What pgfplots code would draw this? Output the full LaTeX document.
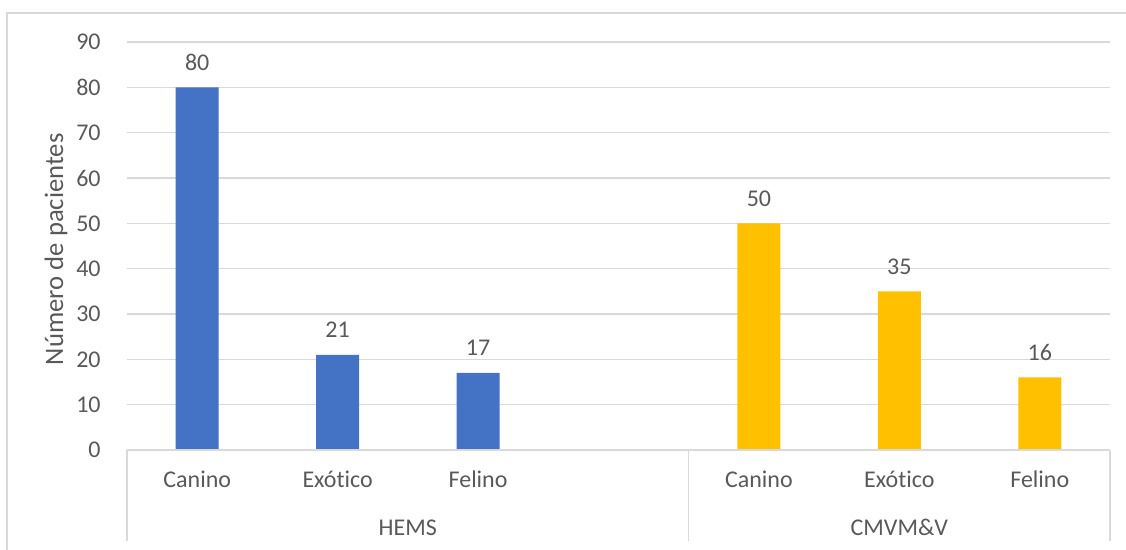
\documentclass[border=0pt]{standalone}
\usepackage{pgfplots}
\pgfplotsset{compat=1.18}
\usepackage{fontspec}
\setmainfont[Ligatures=NoCommon]{Carlito}
\definecolor{txt}{HTML}{595959}
\definecolor{grd}{HTML}{D9D9D9}
\definecolor{cblue}{HTML}{4472C4}
\definecolor{cgold}{HTML}{FFC000}
\begin{document}
\fontsize{12}{14}\selectfont
\begin{tikzpicture}
\useasboundingbox (0,0) rectangle (563pt,275pt);
\draw[grd,line width=0.6pt] (3.5pt,0) -- (3.5pt,268.5pt) -- (570pt,268.5pt);
\begin{axis}[
  at={(63.5pt,50pt)}, anchor=south west,
  scale only axis, width=491.5pt, height=204pt,
  xmin=-0.5, xmax=6.5, ymin=0, ymax=90,
  ytick={0,10,...,90},
  xtick={0,1,2,4,5,6},
  xticklabels={Canino,Exótico,Felino,Canino,Exótico,Felino},
  axis line style={draw=none},
  major tick length=0pt,
  ymajorgrids, grid style={grd,line width=0.6pt},
  tick label style={font=\fontsize{12}{14}\selectfont,text=txt},
  /pgf/number format/assume math mode=true,
  yticklabel style={anchor=east,xshift=-9pt},
  xticklabel style={anchor=base,yshift=-19pt},
  ylabel={Número de pacientes},
  every axis y label/.style={at={(rel axis cs:-0.0722,0.492)},rotate=90,anchor=center,text=txt,font=\fontsize{13.33}{16}\selectfont},
  ybar, bar width=21.5pt, bar shift=0pt,
  nodes near coords,
  every node near coord/.append style={anchor=base,yshift=8.5pt,text=txt,font=\fontsize{12}{14}\selectfont},
  clip=false,
]
\addplot[fill=cblue,draw=none] coordinates {(0,80) (1,21) (2,17)};
\addplot[fill=cgold,draw=none] coordinates {(4,50) (5,35) (6,16)};
\draw[grd,line width=0.6pt] (axis cs:-0.5,0) -- ([yshift=-45.5pt]axis cs:-0.5,0);
\draw[grd,line width=0.6pt] (axis cs:3.5,0) -- ([yshift=-45.5pt]axis cs:3.5,0);
\draw[grd,line width=0.6pt] (axis cs:6.5,0) -- ([yshift=-45.5pt]axis cs:6.5,0);
\draw[grd,line width=0.6pt] (axis cs:-0.5,0) -- (axis cs:6.5,0);
\node[text=txt,anchor=base] at ([yshift=-43pt]axis cs:1.5,0) {HEMS};
\node[text=txt,anchor=base] at ([yshift=-43pt]axis cs:5,0) {CMVM\&V};
\end{axis}
\end{tikzpicture}
\end{document}
